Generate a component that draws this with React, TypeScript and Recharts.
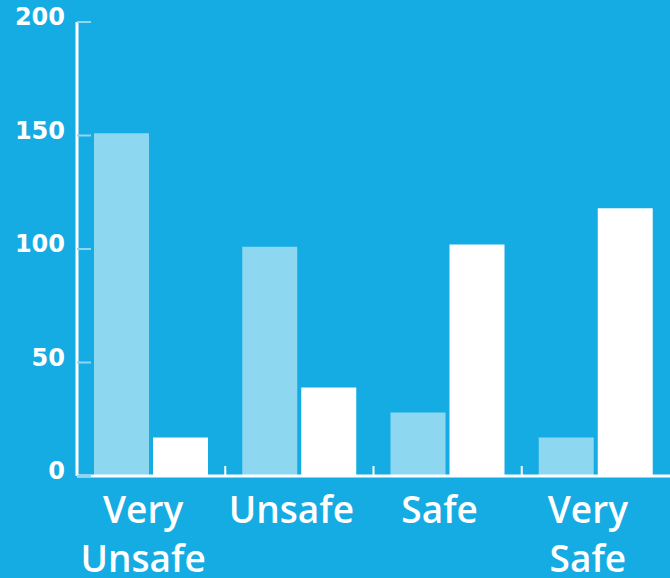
import React from "react";
import { BarChart, Bar, XAxis, YAxis } from "recharts";

// chart values
const categories = ["Very Unsafe", "Unsafe", "Safe", "Very Safe"];
const lightValues = [151, 101, 28, 17];
const whiteValues = [17, 39, 102, 118];
const yTicks = [0, 50, 100, 150, 200];
const boundaryTicks = [1, 2, 3];

const data = categories.map((name, i) => ({
  name,
  light: lightValues[i],
  white: whiteValues[i],
}));

const BG = "#14ACE2";
const LIGHT = "#8ED7F1";

const CategoryTick = (props: any) => {
  const { x, y, payload } = props;
  const lines = String(payload.value).split(" ");
  return (
    <text
      x={x - 8}
      y={y}
      textAnchor="middle"
      fill="#fff"
      fontFamily="'Open Sans', sans-serif"
      fontWeight={600}
      fontSize={37}
    >
      {lines.map((line, i) => (
        <tspan key={i} x={x - 8} y={y + 39 + i * 49}>
          {line}
        </tspan>
      ))}
    </text>
  );
};

const ValueTick = (props: any) => {
  const { x, y, payload } = props;
  return (
    <text
      x={x}
      y={y - 4}
      textAnchor="end"
      dominantBaseline="middle"
      fill="#fff"
      fontFamily="'DejaVu Sans', sans-serif"
      fontWeight={700}
      fontSize={24}
    >
      {payload.value}
    </text>
  );
};

const NoLabel = () => <g />;

export default function App() {
  return (
    <div style={{ position: "absolute", left: 0, top: 0, width: 670, height: 578, background: BG }}>
      <BarChart
        width={670}
        height={578}
        data={data}
        margin={{ top: 22, right: 0, left: 0, bottom: 0 }}
        barGap={4}
      >
        <XAxis
          dataKey="name"
          interval={0}
          height={102}
          axisLine={{ stroke: "#fff", strokeWidth: 3 }}
          tickLine={false}
          tick={<CategoryTick />}
        />
        {/* category boundaries: ticks pointing up from the x axis */}
        <XAxis
          xAxisId="bounds"
          dataKey="boundary"
          type="number"
          scale="linear"
          domain={[0, categories.length]}
          allowDataOverflow
          ticks={boundaryTicks}
          mirror
          axisLine={false}
          tickLine={{ stroke: "#fff", strokeWidth: 2 }}
          tickSize={10}
          tick={NoLabel}
        />
        <YAxis
          domain={[0, 200]}
          ticks={yTicks}
          width={77}
          axisLine={{ stroke: "#fff", strokeWidth: 3 }}
          tickLine={false}
          tickSize={0}
          tickMargin={12}
          tick={<ValueTick />}
        />
        <YAxis
          yAxisId="inner"
          domain={[0, 200]}
          allowDataOverflow
          ticks={yTicks}
          mirror
          axisLine={false}
          tickLine={{ stroke: LIGHT, strokeWidth: 2 }}
          tickSize={14}
          tick={NoLabel}
        />
        <Bar dataKey="light" fill={LIGHT} barSize={55} isAnimationActive={false} />
        <Bar dataKey="white" fill="#fff" barSize={55} isAnimationActive={false} />
      </BarChart>
    </div>
  );
}
